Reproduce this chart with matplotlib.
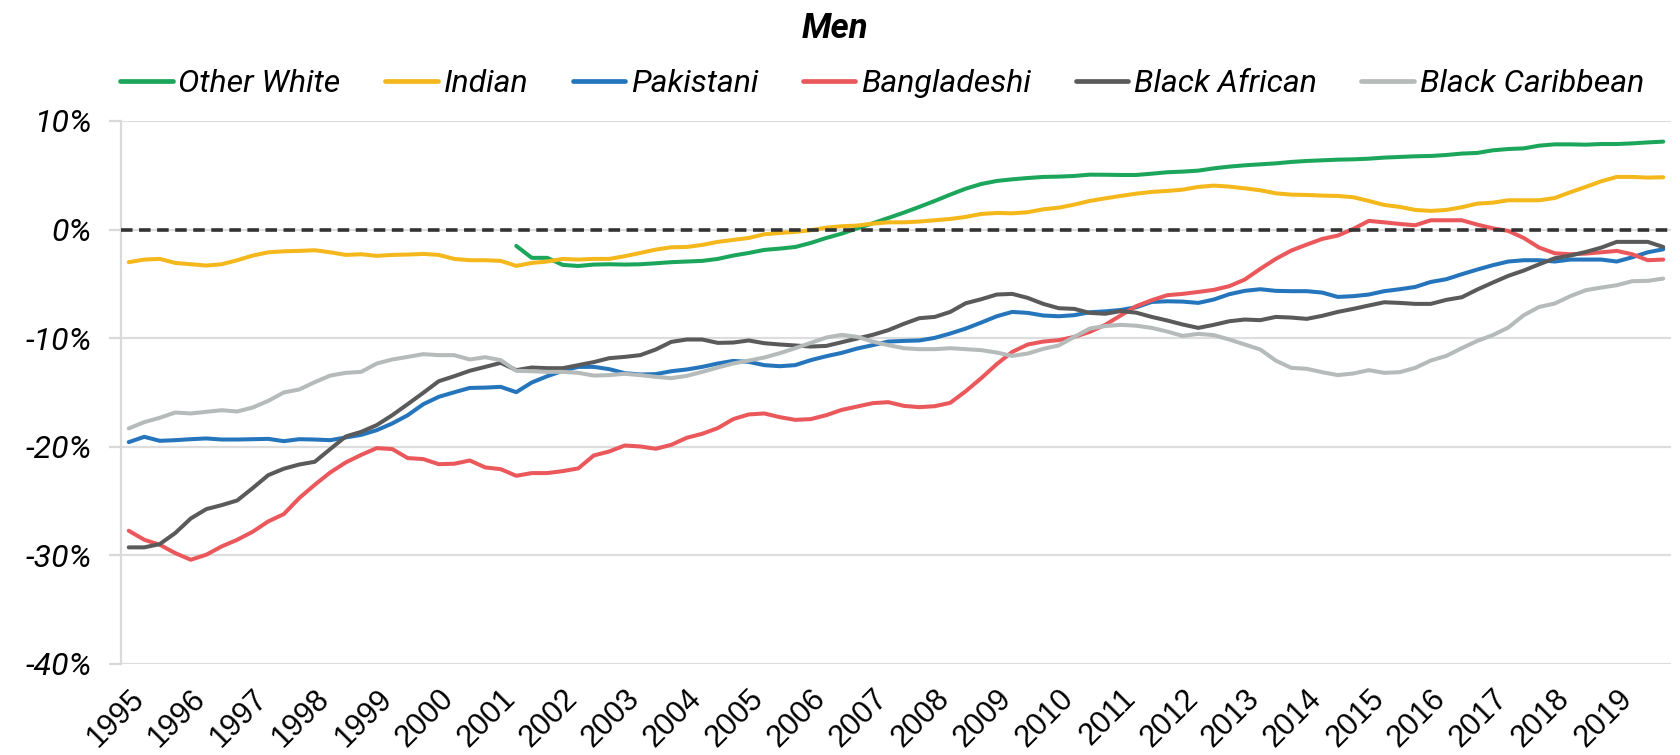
import matplotlib
matplotlib.use("Agg")
import matplotlib.pyplot as plt
from matplotlib import font_manager as fm
from matplotlib.transforms import ScaledTranslation
import numpy as np

# ---------------- data (quarterly, 1995Q1 .. 2019Q4) ----------------
years = list(range(1995, 2020))
n_quarters = 100

other_white = [None] * 25 + [
    -1.5, -2.6, -2.6, -3.25, -3.35,
    -3.22, -3.19, -3.22, -3.19, -3.10, -3.0, -2.94, -2.88, -2.70, -2.39,
    -2.15, -1.87, -1.75, -1.60, -1.23, -0.77, -0.37, 0.12, 0.58, 1.07,
    1.56, 2.09, 2.64, 3.22, 3.77, 4.20, 4.48, 4.63, 4.75, 4.85,
    4.88, 4.94, 5.06, 5.05, 5.03, 5.03, 5.15, 5.28, 5.34, 5.43,
    5.64, 5.80, 5.92, 6.01, 6.10, 6.23, 6.32, 6.38, 6.44, 6.47,
    6.53, 6.63, 6.69, 6.75, 6.78, 6.87, 7.00, 7.06, 7.30, 7.42,
    7.48, 7.73, 7.85, 7.85, 7.82, 7.88, 7.88, 7.94, 8.03, 8.10]

indian = [
    -3.00, -2.76, -2.70, -3.07, -3.19, -3.31, -3.19, -2.82, -2.39, -2.09,
    -2.00, -1.96, -1.90, -2.09, -2.33, -2.27, -2.42, -2.33, -2.30, -2.24,
    -2.33, -2.70, -2.82, -2.82, -2.88, -3.34, -3.07, -2.94, -2.70, -2.76,
    -2.70, -2.70, -2.45, -2.15, -1.84, -1.63, -1.60, -1.41, -1.13, -0.95,
    -0.77, -0.43, -0.31, -0.21, -0.06, 0.18, 0.31, 0.37, 0.55, 0.67,
    0.67, 0.74, 0.86, 0.98, 1.17, 1.44, 1.53, 1.50, 1.60, 1.87,
    2.02, 2.30, 2.64, 2.88, 3.10, 3.31, 3.47, 3.56, 3.68, 3.93,
    4.05, 3.96, 3.80, 3.62, 3.34, 3.22, 3.19, 3.13, 3.10, 2.98,
    2.64, 2.27, 2.09, 1.81, 1.72, 1.81, 2.06, 2.39, 2.48, 2.70,
    2.70, 2.70, 2.91, 3.44, 3.93, 4.45, 4.85, 4.85, 4.79, 4.82]

pakistani = [
    -19.57, -19.08, -19.45, -19.39, -19.30, -19.23, -19.33, -19.33, -19.30, -19.27,
    -19.48, -19.30, -19.33, -19.39, -19.14, -18.90, -18.47, -17.85, -17.09, -16.08,
    -15.40, -14.98, -14.58, -14.55, -14.48, -14.97, -14.08, -13.50, -13.00, -12.64,
    -12.64, -12.85, -13.22, -13.34, -13.31, -13.04, -12.88, -12.64, -12.33, -12.09,
    -12.18, -12.48, -12.58, -12.48, -12.02, -11.66, -11.35, -10.95, -10.64, -10.31,
    -10.25, -10.21, -9.97, -9.57, -9.11, -8.56, -7.98, -7.58, -7.67, -7.91,
    -7.98, -7.88, -7.61, -7.53, -7.40, -7.15, -6.66, -6.60, -6.63, -6.75,
    -6.44, -5.95, -5.64, -5.49, -5.64, -5.67, -5.67, -5.80, -6.20, -6.13,
    -5.98, -5.67, -5.49, -5.28, -4.82, -4.57, -4.11, -3.68, -3.28, -2.94,
    -2.82, -2.82, -2.94, -2.76, -2.76, -2.76, -2.94, -2.55, -2.09, -1.81]

bangladeshi = [
    -27.73, -28.56, -29.02, -29.79, -30.40, -29.94, -29.17, -28.56, -27.82, -26.87,
    -26.20, -24.72, -23.50, -22.36, -21.44, -20.74, -20.12, -20.21, -21.04, -21.13,
    -21.60, -21.56, -21.26, -21.90, -22.06, -22.67, -22.42, -22.42, -22.24, -21.99,
    -20.80, -20.43, -19.88, -19.97, -20.18, -19.82, -19.17, -18.80, -18.28, -17.45,
    -17.02, -16.93, -17.27, -17.52, -17.45, -17.09, -16.60, -16.29, -15.98, -15.89,
    -16.23, -16.35, -16.26, -15.95, -14.88, -13.68, -12.39, -11.26, -10.58, -10.31,
    -10.18, -9.88, -9.42, -8.77, -7.90, -7.05, -6.50, -6.04, -5.92, -5.74,
    -5.55, -5.21, -4.60, -3.62, -2.70, -1.93, -1.38, -0.86, -0.55, 0.06,
    0.80, 0.67, 0.52, 0.40, 0.86, 0.86, 0.86, 0.46, 0.12, -0.12,
    -0.77, -1.66, -2.18, -2.27, -2.21, -2.09, -1.96, -2.27, -2.82, -2.76]

black_african = [
    -29.26, -29.26, -28.96, -27.94, -26.60, -25.74, -25.37, -24.94, -23.80, -22.61,
    -22.02, -21.63, -21.38, -20.21, -19.05, -18.62, -18.00, -17.09, -16.07, -15.03,
    -13.96, -13.50, -13.00, -12.64, -12.27, -12.94, -12.70, -12.76, -12.76, -12.48,
    -12.20, -11.84, -11.72, -11.56, -11.04, -10.34, -10.12, -10.12, -10.43, -10.40,
    -10.21, -10.46, -10.58, -10.67, -10.77, -10.71, -10.37, -10.03, -9.69, -9.26,
    -8.68, -8.16, -8.04, -7.58, -6.78, -6.41, -5.98, -5.92, -6.29, -6.84,
    -7.24, -7.30, -7.67, -7.75, -7.50, -7.65, -8.04, -8.37, -8.74, -9.05,
    -8.77, -8.44, -8.28, -8.34, -8.04, -8.10, -8.22, -7.94, -7.58, -7.30,
    -6.99, -6.69, -6.75, -6.84, -6.84, -6.47, -6.23, -5.52, -4.88, -4.26,
    -3.77, -3.19, -2.64, -2.39, -2.06, -1.66, -1.13, -1.13, -1.13, -1.60]

black_caribbean = [
    -18.31, -17.73, -17.33, -16.84, -16.93, -16.78, -16.63, -16.75, -16.38, -15.77,
    -15.00, -14.72, -14.05, -13.44, -13.19, -13.10, -12.33, -11.96, -11.72, -11.47,
    -11.56, -11.56, -11.96, -11.75, -12.02, -13.00, -13.04, -13.10, -13.10, -13.19,
    -13.44, -13.40, -13.28, -13.40, -13.56, -13.68, -13.47, -13.10, -12.70, -12.33,
    -12.06, -11.78, -11.38, -10.92, -10.43, -9.94, -9.69, -9.88, -10.31, -10.64,
    -10.92, -11.01, -11.01, -10.92, -11.01, -11.10, -11.32, -11.63, -11.41, -10.98,
    -10.67, -9.88, -9.11, -8.88, -8.77, -8.85, -9.05, -9.39, -9.79, -9.60,
    -9.72, -10.12, -10.58, -11.04, -12.06, -12.73, -12.82, -13.13, -13.40, -13.25,
    -12.94, -13.19, -13.13, -12.73, -12.06, -11.63, -10.92, -10.25, -9.72, -9.02,
    -7.88, -7.12, -6.81, -6.13, -5.58, -5.34, -5.12, -4.75, -4.72, -4.51]

series_names = ["Other White", "Indian", "Pakistani", "Bangladeshi",
                "Black African", "Black Caribbean"]
series_values = [other_white, indian, pakistani, bangladeshi,
                 black_african, black_caribbean]
series_colors = ["#1BA65B", "#F4B81C", "#2575BD", "#EA585B", "#5A5A5A", "#B5BBBA"]

y_ticks = [10, 0, -10, -20, -30, -40]

# ---------------- fonts ----------------
available = {f.name for f in fm.fontManager.ttflist}
def pick(cands):
    for c in cands:
        if c in available:
            return c
    return "DejaVu Sans"
main_font = pick(["Roboto", "Liberation Sans", "Open Sans"])
xtick_font = pick(["Liberation Sans", "Roboto"])
plt.rcParams["font.family"] = [main_font, "DejaVu Sans"]

# ---------------- figure ----------------
fig = plt.figure(figsize=(16.81, 7.55), dpi=100)
ax = fig.add_axes([121 / 1681, 1 - 664 / 755, (1671 - 121) / 1681, (664 - 121) / 755])

x = np.arange(n_quarters)
for name, vals, col in zip(series_names, series_values, series_colors):
    y = np.array([np.nan if v is None else v for v in vals], dtype=float)
    ax.plot(x, y, color=col, lw=2.9, label=name, solid_capstyle="round",
            solid_joinstyle="round", zorder=3)

ax.axhline(0, color="#333333", lw=2.6, ls=(0, (3.2, 1.8)), zorder=4)

ax.set_xlim(-0.5, n_quarters - 0.5)
ax.set_ylim(-40, 10)
ax.set_yticks(y_ticks)
ax.set_yticklabels([f"{t}%" for t in y_ticks], fontsize=23, fontstyle="italic")
ax.set_xticks(np.arange(0, n_quarters, 4))
ax.set_xticklabels([str(yy) for yy in years], rotation=45, ha="right",
                   rotation_mode="anchor", fontsize=22,
                   fontfamily=[xtick_font, "DejaVu Sans"])
shift = ScaledTranslation(6 / 100, 0, fig.dpi_scale_trans)
for lab in ax.get_xticklabels():
    lab.set_transform(lab.get_transform() + shift)

ax.grid(axis="y", color="#DDDDDD", lw=1.6, zorder=0)
for s in ["top", "right", "bottom"]:
    ax.spines[s].set_visible(False)
ax.spines["left"].set_color("#D9D9D9")
ax.spines["left"].set_linewidth(1.6)
ax.tick_params(axis="y", length=9, width=1.6, color="#D9D9D9", pad=12, labelcolor="black")
ax.tick_params(axis="x", length=0, pad=14, labelcolor="black")

fig.text(835 / 1681, 1 - 28 / 755, "Men", ha="center", va="center",
         fontsize=25, fontweight="bold", fontstyle="italic")

leg = fig.legend(loc="center", bbox_to_anchor=(882 / 1681, 1 - 84 / 755), ncol=6,
                 frameon=False, handlelength=1.64, handletextpad=0.18,
                 columnspacing=1.4, prop={"size": 23, "style": "italic"})
for h in leg.get_lines():
    h.set_linewidth(3.4)

fig.savefig("out.png", dpi=100)
